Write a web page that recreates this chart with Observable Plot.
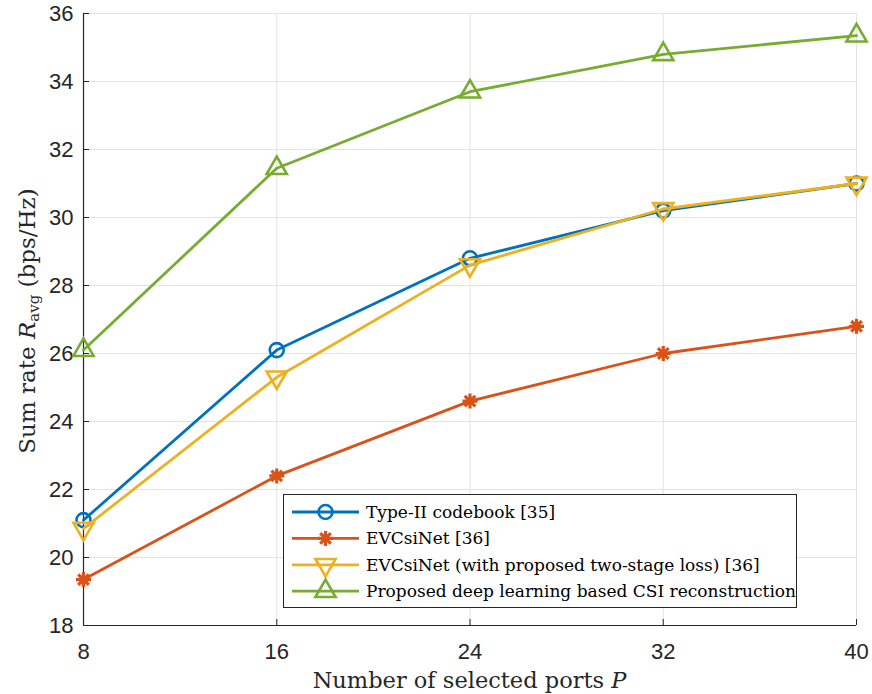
<!DOCTYPE html>
<html>
<head>
<meta charset="utf-8">
<script src="https://cdn.jsdelivr.net/npm/d3@7"></script>
<script src="https://cdn.jsdelivr.net/npm/@observablehq/plot@0.6"></script>
<style>
  html, body { margin: 0; padding: 0; background: #fff; }
  #chart svg { display: block; }
</style>
</head>
<body>
<div id="chart"></div>
<script>
const ports = [8, 16, 24, 32, 40];
const yTicks = [18, 20, 22, 24, 26, 28, 30, 32, 34, 36];
const seriesNames = [
  "Type-II codebook [35]",
  "EVCsiNet [36]",
  "EVCsiNet (with proposed two-stage loss) [36]",
  "Proposed deep learning based CSI reconstruction"
];
const typeII = [21.1, 26.1, 28.8, 30.2, 31.0];
const evcsinet = [19.35, 22.4, 24.6, 26.0, 26.8];
const evcsinetTwoStage = [20.85, 25.3, 28.6, 30.25, 31.0];
const proposed = [26.1, 31.45, 33.7, 34.8, 35.35];
const seriesValues = [typeII, evcsinet, evcsinetTwoStage, proposed];
const colors = ["#0072BD", "#D95319", "#EDB120", "#77AC30"];

// 8-spoke asterisk symbol (MATLAB '*')
const asterisk8 = {
  draw(context, size) {
    const r = Math.sqrt(size / Math.PI);
    for (let i = 0; i < 4; i++) {
      const a = i * Math.PI / 4;
      const dx = r * Math.cos(a), dy = r * Math.sin(a);
      context.moveTo(-dx, -dy);
      context.lineTo(dx, dy);
    }
  }
};
const markerSpecs = [
  {symbol: "circle", rotate: 0, r: 7},
  {symbol: asterisk8, rotate: 0, r: 7.5},
  {symbol: "triangle", rotate: 180, r: 7.5},
  {symbol: "triangle", rotate: 0, r: 7.5}
];

const rows = seriesNames.map((name, i) =>
  ports.map((p, j) => ({series: name, x: p, y: seriesValues[i][j]}))
);

const W = 872, H = 694;
const mL = 83, mR = 16, mT = 13, mB = 69;
const sans = "'Liberation Sans', Arial, Helvetica, sans-serif";
const serif = "'DejaVu Serif', 'Liberation Serif', serif";

const marks = [
  Plot.gridX(ports, {stroke: "#e3e3e3", strokeOpacity: 1, strokeWidth: 1}),
  Plot.gridY(yTicks, {stroke: "#e3e3e3", strokeOpacity: 1, strokeWidth: 1}),
  Plot.axisX(ports, {tickSize: -6, stroke: "#262626", strokeWidth: 1, text: null, label: null}),
  Plot.axisX(ports, {tickSize: 0, tickPadding: 18, label: null, fill: "#262626", fontSize: 22, fontFamily: sans}),
  Plot.axisY(yTicks, {tickSize: -6, stroke: "#262626", strokeWidth: 1, text: null, label: null}),
  Plot.axisY(yTicks, {tickSize: 0, tickPadding: 10, label: null, fill: "#262626", fontSize: 22, fontFamily: sans}),
  Plot.ruleX([8], {stroke: "#262626", strokeWidth: 1.2}),
  Plot.ruleY([18], {stroke: "#262626", strokeWidth: 1.2})
];
rows.forEach((data, i) => {
  marks.push(Plot.line(data, {x: "x", y: "y", stroke: colors[i], strokeWidth: 2.8}));
  const m = markerSpecs[i];
  marks.push(Plot.dot(data, {
    x: "x", y: "y", symbol: m.symbol, r: m.r, rotate: m.rotate,
    stroke: colors[i], strokeWidth: i === 1 ? 3.2 : 2.6, fill: "none"
  }));
});

const chart = Plot.plot({
  width: W, height: H,
  marginLeft: mL, marginRight: mR, marginTop: mT, marginBottom: mB,
  x: {domain: [8, 40]},
  y: {domain: [18, 36]},
  style: {fontFamily: sans, fontSize: "22px", color: "#262626", background: "#fff"},
  marks
});
document.getElementById("chart").appendChild(chart);

const svg = d3.select(chart);

// X label
const xl = svg.append("text")
  .attr("x", (mL + W - mR) / 2).attr("y", 688)
  .attr("text-anchor", "middle")
  .attr("font-family", serif).attr("font-size", 22.5).attr("fill", "#262626");
xl.append("tspan").text("Number of selected ports ");
xl.append("tspan").attr("font-style", "italic").text("P");

// Y label
const yl = svg.append("text")
  .attr("transform", `translate(35, ${(mT + H - mB) / 2 + 2}) rotate(-90)`)
  .attr("text-anchor", "middle")
  .attr("font-family", serif).attr("font-size", 23).attr("fill", "#262626");
yl.append("tspan").text("Sum rate ");
yl.append("tspan").attr("font-style", "italic").text("R");
yl.append("tspan").attr("font-size", 15).attr("dy", 4).text("avg");
yl.append("tspan").attr("dy", -4).text(" (bps/Hz)");

// Legend
const lg = svg.append("g").attr("text-anchor", "start");
lg.append("rect").attr("x", 283.5).attr("y", 494.5).attr("width", 513).attr("height", 113)
  .attr("fill", "#fff").attr("stroke", "#262626").attr("stroke-width", 1);
seriesNames.forEach((name, i) => {
  const cy = 512 + i * 26.4;
  lg.append("line").attr("x1", 292).attr("x2", 359).attr("y1", cy).attr("y2", cy)
    .attr("stroke", colors[i]).attr("stroke-width", 2.8);
  const m = markerSpecs[i];
  const sym = typeof m.symbol === "string"
    ? (m.symbol === "circle" ? d3.symbolCircle : d3.symbolTriangle)
    : m.symbol;
  lg.append("path")
    .attr("d", d3.symbol(sym, Math.PI * m.r * m.r)())
    .attr("transform", `translate(325.5, ${cy}) rotate(${m.rotate})`)
    .attr("fill", "none").attr("stroke", colors[i]).attr("stroke-width", i === 1 ? 3.2 : 2.6);
  lg.append("text").attr("x", 366).attr("y", cy).attr("dy", "0.35em")
    .attr("text-anchor", "start")
    .attr("font-family", serif).attr("font-size", 17).attr("fill", "#000")
    .text(name);
});
</script>
</body>
</html>
